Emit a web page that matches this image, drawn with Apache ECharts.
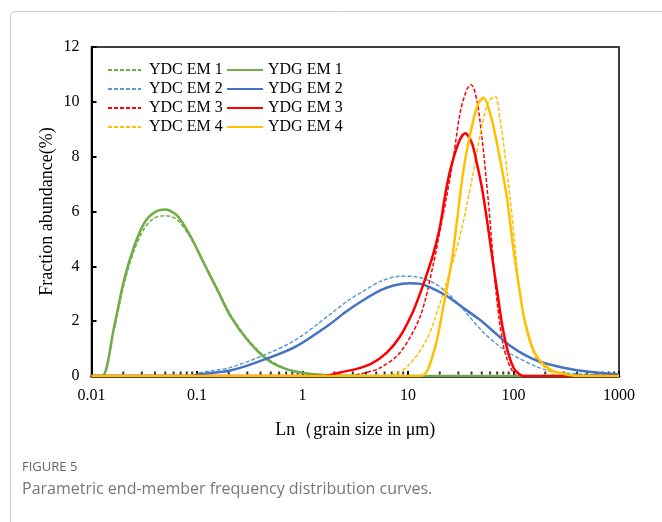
<!DOCTYPE html>
<html>
<head>
<meta charset="utf-8">
<script src="https://cdn.jsdelivr.net/npm/echarts@6/dist/echarts.min.js"></script>
<style>
  html, body { margin: 0; padding: 0; background: #fff; }
  #chart { width: 662px; height: 522px; }
</style>
</head>
<body>
<div id="chart"></div>
<script>
// grain size (μm) / fraction abundance (%) pairs
const ydcEm1 = [[0.01,0],[0.0126,0],[0.0163,1.65],[0.0202,3.3],[0.0252,4.55],[0.0313,5.35],[0.0389,5.75],[0.0502,5.85],[0.0649,5.7],[0.0867,5.05],[0.1156,4.15],[0.155,3.2],[0.207,2.25],[0.298,1.38],[0.461,0.64],[0.713,0.26],[1.1,0.1],[1.71,0.04],[3,0.01],[5,0],[1000,0]];
const ydgEm1 = [[0.01,0],[0.0126,0],[0.0163,1.75],[0.0202,3.45],[0.0252,4.7],[0.0313,5.55],[0.0389,5.95],[0.0502,6.07],[0.0649,5.85],[0.0867,5.1],[0.1156,4.13],[0.155,3.16],[0.207,2.19],[0.298,1.33],[0.461,0.6],[0.713,0.24],[1.1,0.09],[1.71,0.03],[3,0.005],[5,0],[1000,0]];
const ydcEm2 = [[0.01,0],[0.09,0],[0.107,0.12],[0.207,0.31],[0.495,0.86],[0.888,1.35],[1.83,2.25],[2.7,2.75],[3.79,3.1],[5.46,3.45],[8.43,3.64],[11.3,3.63],[17.5,3.4],[24,3.0],[31.2,2.56],[50,1.65],[70,1.15],[95,0.8],[165,0.34],[239,0.16],[427,0.07],[1000,0.02]];
const ydgEm2 = [[0.01,0],[0.09,0],[0.107,0.07],[0.207,0.2],[0.495,0.68],[0.888,1.1],[1.83,1.9],[2.6,2.35],[3.79,2.77],[5.46,3.12],[7.29,3.3],[10.5,3.38],[13.1,3.36],[17,3.2],[23.3,2.92],[33,2.5],[48.3,2.04],[68,1.55],[92.9,1.1],[130,0.75],[178.6,0.52],[297,0.3],[494,0.16],[883,0.07],[1000,0.05]];
const ydcEm3 = [[0.01,0],[2.5,0],[3.77,0.1],[5.46,0.3],[8.43,0.86],[13.1,2.19],[17.5,4.13],[20.2,5.35],[23.3,6.56],[27,8.0],[31.2,9.6],[36.1,10.45],[39.7,10.62],[44.9,10.07],[50.1,8.74],[53.8,7.6],[57.8,6.35],[61,5.3],[67,3.4],[73,2.1],[80.2,1.1],[88,0.55],[96.4,0.22],[110,0],[1000,0]];
const ydgEm3 = [[0.01,0],[1.6,0],[2.28,0.13],[3.2,0.25],[4.5,0.45],[6.3,0.85],[8.43,1.45],[11,2.3],[13.1,3.04],[15.5,3.85],[17.5,4.5],[20.2,5.5],[22.5,6.6],[25.1,7.5],[30.1,8.5],[34.8,8.85],[40.3,8.5],[45,7.75],[50,6.9],[56,5.7],[63,4.3],[70,3.1],[79,1.75],[89,0.85],[100,0.3],[112,0.08],[125,0],[1000,0]];
const ydcEm4 = [[0.01,0],[6,0],[7.85,0.1],[10.5,0.45],[15.1,1.35],[20.2,2.68],[27,4.25],[32.4,5.4],[40.3,7.16],[50.1,9.1],[57.8,10.0],[67,10.2],[74.7,9.35],[86.3,7.53],[96.4,5.9],[104,4.6],[113,3.2],[123,2.3],[133.6,1.6],[150,1.0],[166,0.62],[206.6,0.25],[260,0],[1000,0]];
const ydgEm4 = [[0.01,0],[13.1,0],[17.5,0.86],[21.7,2.56],[26.1,4.25],[29,5.6],[33.6,7.53],[40.3,9.1],[46.5,9.95],[51.9,10.15],[62.2,9.35],[74.7,7.89],[86.3,6.56],[92.9,5.6],[100,4.6],[115.5,3.0],[124,2.25],[138.4,1.5],[154,0.95],[178.6,0.55],[206.6,0.33],[238.8,0.18],[297,0.08],[400,0],[1000,0]];

// minor tick positions on the log axis (drawn as small marks on the x axis)
const minorTickVals = [0.02,0.03,0.04,0.05,0.06,0.07,0.08,0.09,
  0.2,0.3,0.4,0.5,0.6,0.7,0.8,0.9,
  2,3,4,5,6,7,8,9,
  20,30,40,50,60,70,80,90,
  200,300,400,500,600,700,800,900];

const ydcNames = ['YDC EM 1', 'YDC EM 2', 'YDC EM 3', 'YDC EM 4'];
const ydgNames = ['YDG EM 1', 'YDG EM 2', 'YDG EM 3', 'YDG EM 4'];
const ydcColors = ['#70AD47', '#5B9BD5', '#FF0000', '#FFC000'];
const ydgColors = ['#70AD47', '#4472C4', '#FF0000', '#FFC000'];

const serif = '"Liberation Serif", "Times New Roman", serif';

const dashed = (name, data, color) => ({
  name, type: 'line', data, symbol: 'none', smooth: 0.3,
  lineStyle: { color, width: 1.5, type: [4, 2] },
  itemStyle: { color }
});
const solid = (name, data, color) => ({
  name, type: 'line', data, symbol: 'none', smooth: 0.3,
  lineStyle: { color, width: 2.5 },
  itemStyle: { color }
});

const chart = echarts.init(document.getElementById('chart'));

chart.setOption({
  animation: false,
  backgroundColor: '#fff',
  grid: { left: 91.5, right: 43, top: 47, bottom: 146, show: true, borderColor: '#000', borderWidth: 1.5 },
  legend: [
    { data: ydcNames, orient: 'vertical', left: 102, top: 57, itemWidth: 33, itemHeight: 12, itemGap: 3,
      itemStyle: { opacity: 0 },
      textStyle: { fontFamily: serif, fontSize: 16, color: '#000', padding: [0, 0, 0, 3] } },
    { data: ydgNames, orient: 'vertical', left: 221, top: 57, itemWidth: 36, itemHeight: 12, itemGap: 3,
      itemStyle: { opacity: 0 },
      textStyle: { fontFamily: serif, fontSize: 16, color: '#000', padding: [0, 0, 0, 0] } }
  ],
  xAxis: {
    type: 'log', logBase: 10, min: 0.01, max: 1000,
    name: 'Ln（grain size in μm)', nameLocation: 'middle', nameGap: 45,
    nameTextStyle: { fontFamily: serif, fontSize: 18, color: '#000' },
    axisLine: { lineStyle: { color: '#000', width: 2.5 } },
    axisTick: { inside: true, length: 5, lineStyle: { color: '#000', width: 2 } },
    axisLabel: {
      fontFamily: serif, fontSize: 16, color: '#000', margin: 12,
      formatter: v => String(+(+v).toPrecision(6))
    },
    splitLine: { show: false }
  },
  yAxis: {
    type: 'value', min: 0, max: 12, interval: 2,
    name: 'Fraction abundance(%)', nameLocation: 'middle', nameGap: 35, nameMoveOverlap: false,
    nameTextStyle: { fontFamily: serif, fontSize: 18, color: '#000' },
    axisLine: { show: true, lineStyle: { color: '#000', width: 2 } },
    axisTick: { show: true, inside: true, length: 5, lineStyle: { color: '#000', width: 2 } },
    axisLabel: { fontFamily: serif, fontSize: 16, color: '#000', margin: 12 },
    splitLine: { show: false }
  },
  series: [
    {
      name: 'ticks', type: 'scatter', silent: true, z: 1,
      data: minorTickVals.map(v => [v, 0]),
      symbol: 'rect', symbolSize: [2, 3], symbolOffset: [0, -3],
      itemStyle: { color: '#000' }
    },
    dashed(ydcNames[0], ydcEm1, ydcColors[0]),
    dashed(ydcNames[1], ydcEm2, ydcColors[1]),
    dashed(ydcNames[2], ydcEm3, ydcColors[2]),
    dashed(ydcNames[3], ydcEm4, ydcColors[3]),
    solid(ydgNames[0], ydgEm1, ydgColors[0]),
    solid(ydgNames[1], ydgEm2, ydgColors[1]),
    solid(ydgNames[2], ydgEm3, ydgColors[2]),
    solid(ydgNames[3], ydgEm4, ydgColors[3])
  ],
  graphic: [
    {
      type: 'rect', left: 8, top: 9, silent: true,
      shape: { width: 700, height: 600, r: 4 },
      style: { fill: 'none', stroke: '#cfcfcf', lineWidth: 1 }
    },
    {
      type: 'text', left: 22, top: 461, silent: true,
      style: { text: 'FIGURE 5', font: '13px "Open Sans", "Noto Sans", sans-serif', fill: '#666666' }
    },
    {
      type: 'text', left: 22, top: 481, silent: true,
      style: { text: 'Parametric end-member frequency distribution curves.', font: '16px "Open Sans", "Noto Sans", sans-serif', fill: '#777777' }
    }
  ]
});
</script>
</body>
</html>
